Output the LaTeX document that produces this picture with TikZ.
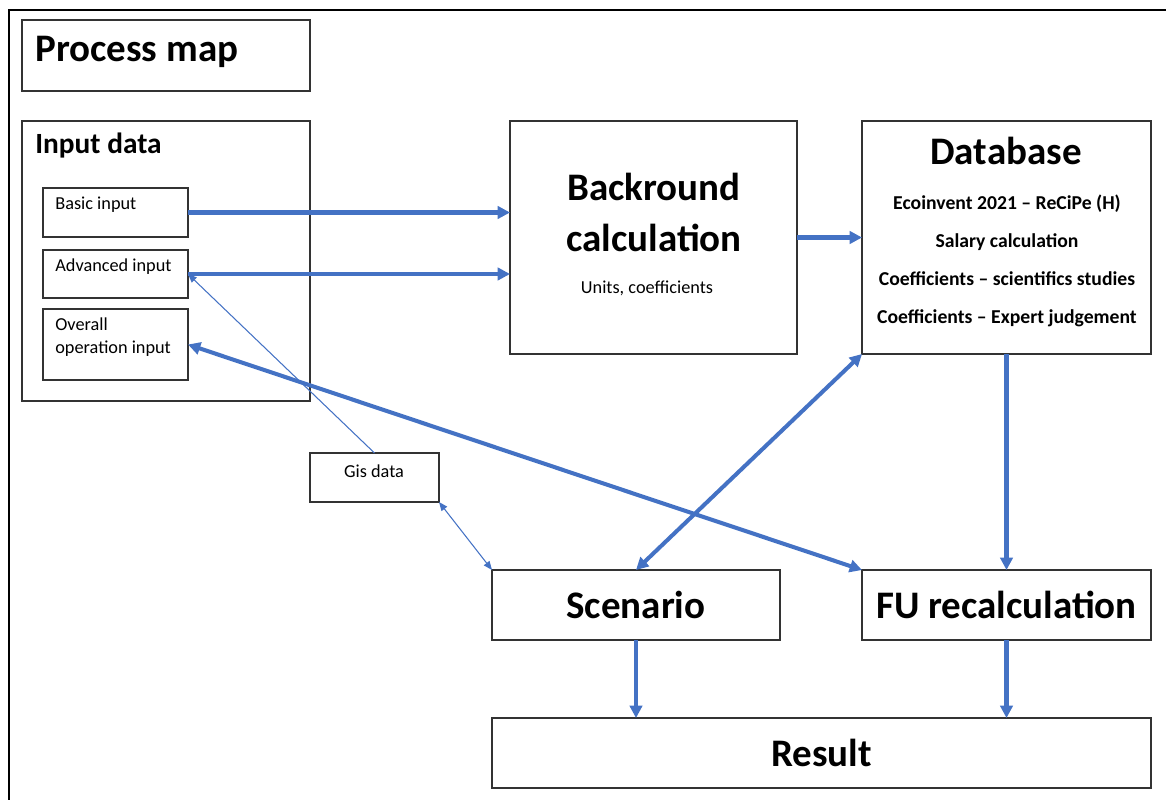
\documentclass[tikz,border=0pt]{standalone}
\usepackage{fontspec}
\setmainfont{Carlito}
\usepackage{tikz}
\usetikzlibrary{positioning, arrows.meta, calc}
\definecolor{flowblue}{HTML}{4472C4}

\begin{document}
\begin{tikzpicture}[x=0.02cm, y=-0.02cm,
    box/.style={draw=black!80, line width=0.8pt, rectangle, inner sep=0pt, outer sep=0pt},
    flow/.style={draw=flowblue, line width=2.3pt, -{Triangle[length=7pt, width=7pt]}},
    flowboth/.style={flow, {Triangle[length=7pt, width=7pt]}-{Triangle[length=7pt, width=7pt]}},
    thinflow/.style={draw=flowblue, line width=0.6pt, -{Triangle[length=5pt, width=4pt]}},
    bigtext/.style={font=\fontsize{22.2}{29}\selectfont\bfseries},
    smalltext/.style={font=\fontsize{10.4}{13}\selectfont}]
      \useasboundingbox (0,0) rectangle (1166,800);

      % Frame
      \draw[line width=1.2pt] (1166,10) -- (9,10) -- (9,800);

      % Title
      \node[box, minimum width=5.76cm, minimum height=1.42cm] (title) at (166,55.5) {};
      \node[anchor=west, inner sep=0pt, font=\fontsize{22.2}{25}\selectfont\bfseries] (titletext) at (35,52) {Process map};

      % Input data
      \node[box, minimum width=5.76cm, minimum height=5.6cm] (input) at (166,261) {};
      \node[anchor=west, inner sep=0pt, font=\fontsize{16.7}{19}\selectfont\bfseries] (inputtext) at (35,146) {Input data};

      \node[box, minimum width=2.9cm, minimum height=0.98cm] (basic) at (115.5,212.5) {};
      \node[smalltext, anchor=west, inner sep=0pt] (basictext) at (55,205) {Basic input};

      \node[box, minimum width=2.9cm, minimum height=0.96cm] (advanced) at (115.5,274) {};
      \node[smalltext, anchor=west, inner sep=0pt] (advancedtext) at (55,267) {Advanced input};

      \node[box, minimum width=2.9cm, minimum height=1.42cm] (overall) at (115.5,344.5) {};
      \node[smalltext, anchor=west, inner sep=0pt, align=left] (overalltext) at (55,337.5) {Overall\\operation input};

      % Background calculation
      \node[box, minimum width=5.74cm, minimum height=4.66cm] (backcalc) at (653.5,237.5) {};
      \node[bigtext, align=center] (backtext) at (654,212) {Backround\\calculation};
      \node[smalltext] (unitstext) at (647,288) {Units, coefficients};

      % Database
      \node[box, minimum width=5.78cm, minimum height=4.66cm] (database) at (1006.5,237.5) {};
      \node[bigtext] (dbtext) at (1006,151) {Database};
      \node[font=\fontsize{11.2}{21.6}\selectfont\bfseries, align=center] (dblist) at (1007,261) {Ecoinvent 2021 – ReCiPe (H)\\Salary calculation\\Coefficients – scientifics studies\\Coefficients – Expert judgement};

      % Gis
      \node[box, minimum width=2.58cm, minimum height=0.98cm] (gis) at (374.5,477.5) {};
      \node[smalltext] (gistext) at (374,471) {Gis data};

      % Lower row
      \node[box, bigtext, minimum width=5.76cm, minimum height=1.4cm] (scenario) at (636,605) {Scenario};
      \node[box, bigtext, minimum width=5.78cm, minimum height=1.4cm] (fu) at (1006.5,605) {FU recalculation};
      \node[box, bigtext, minimum width=13.18cm, minimum height=1.4cm] (result) at (821.5,753) {Result};

      % Arrows
      \draw[flow] (basic.east) -- (basic.east -| backcalc.west);
      \draw[flow] (advanced.east) -- (advanced.east -| backcalc.west);
      \draw[flow] (backcalc.east) -- (database.west);
      \draw[flow] (database.south) -- (fu.north);
      \draw[flow] (scenario.south) -- (scenario.south |- result.north);
      \draw[flow] (fu.south) -- (fu.south |- result.north);
      \draw[flowboth] (overall.east) -- (fu.north west);
      \draw[flowboth] (scenario.north) -- (database.south west);
      \draw[thinflow] (gis.north) -- (advanced.east);
      \draw[thinflow, {Triangle[length=5pt, width=4pt]}-{Triangle[length=5pt, width=4pt]}] (gis.south east) -- (scenario.north west);
    \end{tikzpicture}
\end{document}
